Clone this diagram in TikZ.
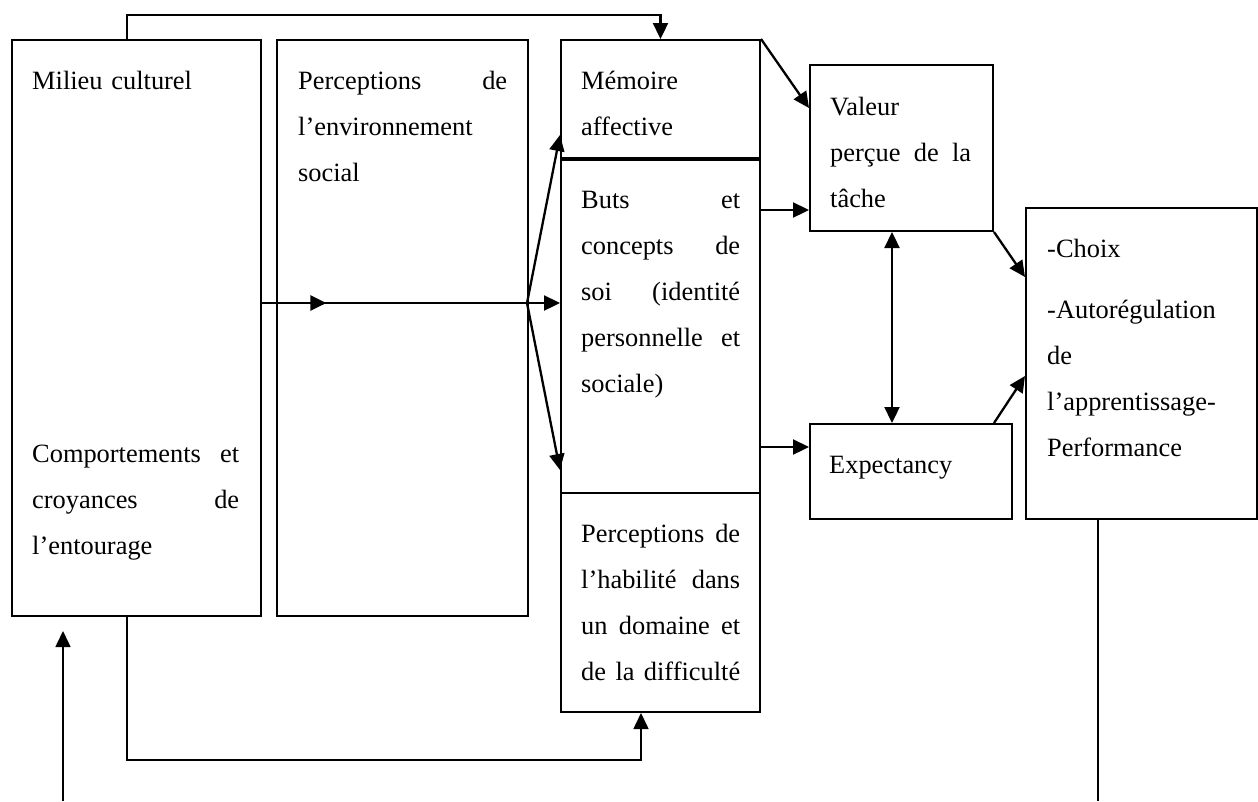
\documentclass[tikz,border=0pt]{standalone}
\usepackage{fontspec}
\setmainfont{Liberation Serif}
\usetikzlibrary{arrows.meta,decorations.markings}
\setlength{\parindent}{0pt}
\tikzset{
  box/.style={draw, line width=2pt, inner sep=0pt, anchor=north west},
  txt/.style={anchor=north west, inner sep=0pt, align=left, font=\fontsize{26.4}{46}\selectfont},
  con/.style={line width=2.3pt},
  arr/.style={con, -{Triangle[length=16pt,width=15pt]}},
  dbl/.style={con, {Triangle[length=16pt,width=15pt]}-{Triangle[length=16pt,width=15pt]}},
  thincon/.style={line width=1.6pt},
  thinarr/.style={thincon, -{Triangle[length=16pt,width=15pt]}},
  midarr/.style={con, decoration={markings, mark=at position #1 with {\arrow{Triangle[length=16pt,width=15pt]}}}, postaction={decorate}}
}
\begin{document}
\begin{tikzpicture}[x=1pt,y=-1pt]
\useasboundingbox (0,0) rectangle (1258,801);

% boxes
\node[box, minimum width=249pt, minimum height=576pt] (b1) at (11,39) {};
\node[box, minimum width=251pt, minimum height=576pt] (b2) at (276,39) {};
\node[box, minimum width=199pt, minimum height=118pt] (b3m) at (560,39) {};
\node[box, minimum width=199pt, minimum height=335pt] (b3g) at (560,157) {};
\node[box, minimum width=199pt, minimum height=219pt] (b3p) at (560,492) {};
\node[box, minimum width=183pt, minimum height=166pt] (val) at (809,64) {};
\node[box, minimum width=231pt, minimum height=311pt] (cho) at (1025,207) {};
\node[box, minimum width=202pt, minimum height=95pt] (exp) at (809,423) {};
\draw[line width=3.5pt] (b3m.south west) -- (b3m.south east);

% texts
\node[txt, text width=207pt] (t1a) at (32,56.8) {\strut Milieu culturel};
\node[txt, text width=207pt] (t1b) at (32,429.8) {\strut Comportements\hfill et\\croyances\hfill de\\l’entourage};
\node[txt, text width=209pt] (t2) at (298,56.8) {\strut Perceptions\hfill de\\l’environnement\\social};
\node[txt, text width=159pt] (t3a) at (581,56.8) {\strut Mémoire\\affective};
\node[txt, text width=159pt] (t3b) at (581,175.8) {\strut Buts\hfill et\\concepts\hfill de\\soi\hfill (identité\\personnelle\hfill et\\sociale)};
\node[txt, text width=159pt] (t3c) at (581,509.8) {\strut Perceptions\hfill de\\l’habilité\hfill dans\\un\hfill domaine\hfill et\\de\hfill la\hfill difficulté};
\node[txt, text width=141pt] (tv) at (830,82.8) {\strut Valeur\\perçue\hfill de\hfill la\\tâche};
\node[txt, text width=200pt] (tc) at (1047,224.8) {\strut -Choix\\[15pt]-Autorégulation\\de\\l’apprentissage-\\Performance};
\node[txt, text width=170pt] (te) at (829,440.8) {\strut Expectancy};

% helper coordinates
\coordinate (hub) at (527,303);
\path ([yshift=22pt]val.south west) coordinate (vin);
\path ([yshift=-24pt]exp.north west) coordinate (ein);
\path ([xshift=83pt]val.south west) coordinate (dv);
\path ([xshift=73pt]cho.south west) coordinate (pstart);
\coordinate (pend) at (1098,801);
\coordinate (src) at (63,801);

% connectors
\draw[arr] ([xshift=116pt]b1.north west) |- ([yshift=24pt]b3m.north) -- (b3m.north);
\draw[midarr=0.243] (b1.east |- hub) -- (hub);
\draw[arr] (hub) -- (b3g.west |- hub);
\draw[arr] (hub) -- ([yshift=24pt]b3m.south west);
\draw[arr] (hub) -- ([yshift=24pt]b3g.south west);
\draw[arr] (b3m.north east) -- ([yshift=-44pt]val.north west);
\draw[arr] (b3g.east |- vin) -- (vin);
\draw[arr] (b3g.east |- ein) -- (ein);
\draw[dbl] (dv) -- (dv |- exp.north);
\draw[arr] (val.south east) -- ([yshift=-70pt]cho.north west);
\draw[arr] ([xshift=-19pt]exp.north east) -- ([yshift=-169pt]cho.north west);
\draw[thincon] (pstart) -- (pend);
\draw[thinarr] ([xshift=116pt]b1.south west) -- ++(0,143) -| ([xshift=81pt]b3p.south west);
\draw[thinarr] (src) -- ([xshift=52pt,yshift=-14pt]b1.south west);
\end{tikzpicture}
\end{document}
